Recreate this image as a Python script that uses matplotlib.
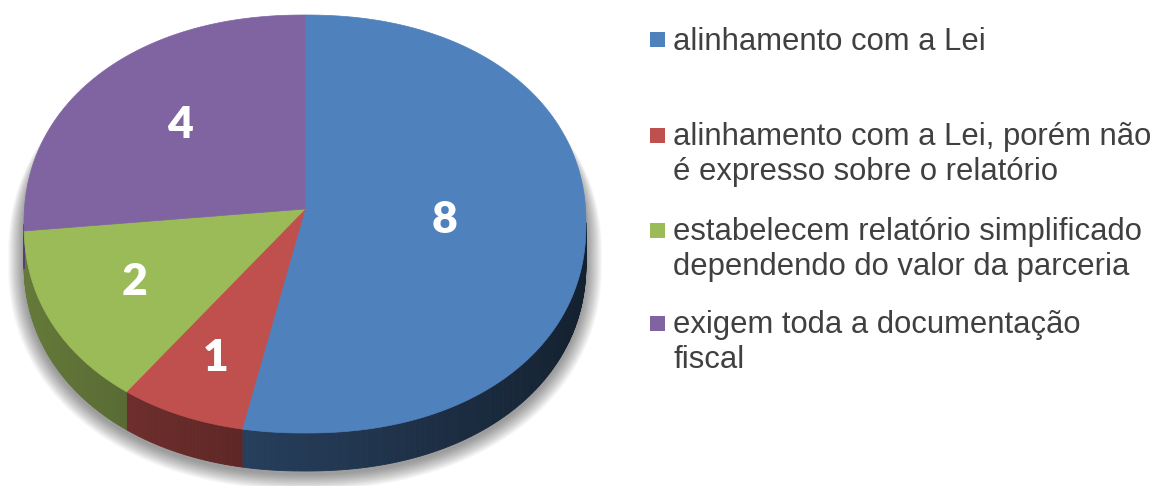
import numpy as np
import matplotlib
matplotlib.use("Agg")
import matplotlib.pyplot as plt
from matplotlib.patches import Polygon, Rectangle
from matplotlib.colors import to_rgb

# ---------------- data ----------------
categories = [
    "alinhamento com a Lei",
    "alinhamento com a Lei, porém não\né expresso sobre o relatório",
    "estabelecem relatório simplificado\ndependendo do valor da parceria",
    "exigem toda a documentação\nfiscal",
]
values = [8, 1, 2, 4]
value_labels = ["8", "1", "2", "4"]
colors = ["#4f81bd", "#c0504d", "#9bbb59", "#8064a2"]

# ---------------- layout (pixels) ----------------
W, H = 1155, 486
CX, CY = 305, 224          # top outline centre
RX, RY = 281, 209          # top outline radii
NEXP = 2.15                # superellipse exponent (3D perspective look)
APX, APY = 305, 209        # apex where slices meet
DEPTH = 38
label_r = [0.5, 0.78, 0.7, 0.6]

fig = plt.figure(figsize=(W / 100, H / 100), dpi=100)
ax = fig.add_axes([0, 0, 1, 1])
ax.set_xlim(0, W)
ax.set_ylim(H, 0)
ax.axis("off")


def outline(phi_deg, dy=0.0, grow=0.0):
    t = np.radians(phi_deg)
    c, s = np.cos(t), np.sin(t)
    x = CX + (RX + grow) * np.sign(c) * np.abs(c) ** (2 / NEXP)
    y = CY - (RY + grow) * np.sign(s) * np.abs(s) ** (2 / NEXP) + dy
    return x, y


# map pie angle (seen from apex) -> outline parameter
phi_grid = np.linspace(-270, 90, 14401)
gx, gy = outline(phi_grid)
alpha = np.unwrap(np.arctan2(-(gy - APY) / RY, (gx - APX) / RX))
alpha = np.degrees(alpha)
alpha += -270 - alpha[0]


def phi_of(a):
    return np.interp(a, alpha, phi_grid)


# soft shadow (silhouette grown step by step, kept below the top rim)
for k in range(16, 0, -1):
    top_phi = np.linspace(0, 180, 181)
    bot_phi = np.linspace(180, 360, 181)
    tx, ty = outline(top_phi, dy=k + 14, grow=k)
    bx, by = outline(bot_phi, dy=DEPTH + 3, grow=k)
    pts = np.column_stack([np.concatenate([tx, bx]), np.concatenate([ty, by])])
    ax.add_patch(Polygon(pts, closed=True, facecolor="#000000",
                         edgecolor="none", alpha=0.026, zorder=1))

total = float(sum(values))
cum = np.concatenate([[0], np.cumsum(values)])
starts = 90 - 360 * cum[:-1] / total
ends = 90 - 360 * cum[1:] / total

# side walls
for s, e, c in zip(starts, ends, colors):
    base = np.array(to_rgb(c))
    ps, pe = phi_of(s), phi_of(e)
    ts = np.linspace(ps, pe, max(int(abs(ps - pe) * 2), 2))
    for a, b in zip(ts[:-1], ts[1:]):
        m = 0.5 * (a + b)
        if np.sin(np.radians(m)) >= 0:
            continue
        fac = 0.45 + 0.2 * (-np.cos(np.radians(m)))
        col = np.clip(base * fac, 0, 1)
        x1, y1 = outline(a)
        x2, y2 = outline(b)
        quad = [(x1, y1), (x2, y2), (x2, y2 + DEPTH), (x1, y1 + DEPTH)]
        ax.add_patch(Polygon(quad, closed=True, facecolor=col, edgecolor=col,
                             linewidth=0.6, zorder=2))

# top faces
for s, e, c in zip(starts, ends, colors):
    ps, pe = phi_of(s), phi_of(e)
    ts = np.linspace(ps, pe, max(int(abs(ps - pe) * 3), 2))
    xs, ys = outline(ts)
    pts = np.vstack([[APX, APY], np.column_stack([xs, ys])])
    ax.add_patch(Polygon(pts, closed=True, facecolor=c, edgecolor=c,
                         linewidth=0.5, zorder=3))

# value labels
for s, e, lab, f in zip(starts, ends, value_labels, label_r):
    m = np.radians(0.5 * (s + e))
    x = APX + f * RX * np.cos(m)
    y = APY - f * RY * np.sin(m)
    ax.text(x, y, lab, color="white", fontsize=32, fontweight="heavy",
            family=["Lato", "DejaVu Sans"], ha="center", va="center", zorder=5)

# legend
sq_x, txt_x = 657, 673
square_y = [40, 135, 230, 323]
first_base = [50, 145, 240, 333]
line_step = 35
for cat, c, sy, by in zip(categories, colors, square_y, first_base):
    ax.add_patch(Rectangle((sq_x - 7.5, sy - 7.5), 15, 15, facecolor=c,
                           edgecolor="none", zorder=5))
    for k, line in enumerate(cat.split("\n")):
        ax.text(txt_x, by + k * line_step, line, fontsize=22.3, color="#404040",
                family=["Liberation Sans", "DejaVu Sans"], ha="left",
                va="baseline", zorder=5)

fig.savefig("out.png", dpi=100, facecolor="white")
